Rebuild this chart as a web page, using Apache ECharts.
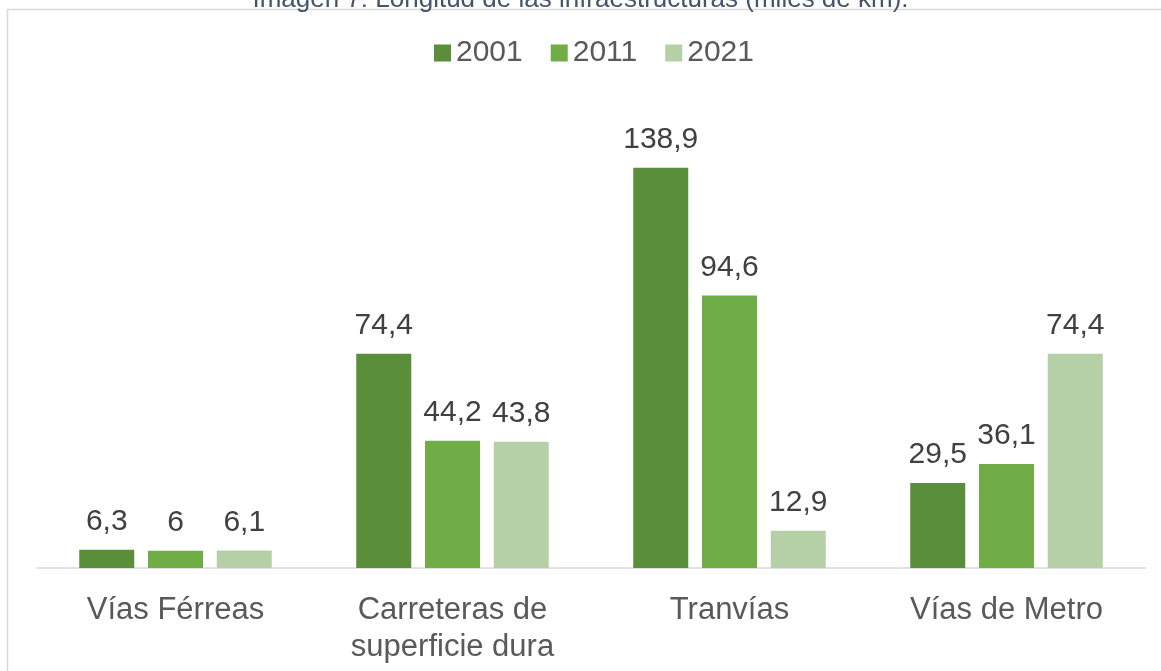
<!DOCTYPE html>
<html>
<head>
<meta charset="utf-8">
<title>Longitud de las infraestructuras</title>
<script src="https://cdn.jsdelivr.net/npm/echarts@6/dist/echarts.min.js"></script>
<style>
  html, body { margin: 0; padding: 0; background: #fff; }
  #chart { width: 1161px; height: 671px; }
</style>
</head>
<body>
<div id="chart"></div>
<script>
// datos (miles de km)
const categorias = ['Vías Férreas', 'Carreteras de\nsuperficie dura', 'Tranvías', 'Vías de Metro']
const anios = ['2001', '2011', '2021']
const valores2001 = [6.3, 74.4, 138.9, 29.5]
const valores2011 = [6, 44.2, 94.6, 36.1]
const valores2021 = [6.1, 43.8, 12.9, 74.4]
const colores = ['#5b8e3a', '#70ad47', '#b5d0a6']

const font = 'Liberation Sans, Arial, sans-serif'

function serie(nombre, datos, color) {
  return {
    name: nombre,
    type: 'bar',
    data: datos,
    barWidth: 55,
    barGap: '25%',
    itemStyle: { color: color },
    label: {
      show: true,
      position: 'top',
      distance: 13,
      fontFamily: font,
      fontSize: 30,
      color: '#404040',
      formatter: function (p) {
        return String(p.value).replace('.', ',')
      }
    },
    emphasis: { disabled: true }
  }
}

const chart = echarts.init(document.getElementById('chart'))
chart.setOption({
  animation: false,
  title: {
    text: 'Imagen 7: Longitud de las infraestructuras (miles de km).',
    left: 'center',
    top: -18,
    textStyle: {
      fontFamily: font,
      fontSize: 26,
      fontWeight: 'normal',
      color: '#44546a'
    }
  },
  graphic: [
    {
      type: 'rect',
      z: -1,
      shape: { x: 7.5, y: 9.5, width: 1200, height: 700 },
      style: { fill: 'none', stroke: '#d9d9d9', lineWidth: 1.5 }
    }
  ],
  legend: {
    data: anios,
    left: 429,
    top: 33,
    itemWidth: 17,
    itemHeight: 17,
    itemGap: 28,
    icon: 'rect',
    textStyle: {
      fontFamily: font,
      fontSize: 30,
      color: '#595959'
    }
  },
  grid: {
    left: 37,
    right: 16,
    top: 107,
    bottom: 103
  },
  xAxis: {
    type: 'category',
    data: categorias,
    axisTick: { show: false },
    axisLine: { lineStyle: { color: '#d9d9d9', width: 1.5 } },
    axisLabel: {
      fontFamily: font,
      fontSize: 31,
      lineHeight: 37,
      margin: 24,
      color: '#595959'
    }
  },
  yAxis: {
    type: 'value',
    min: 0,
    max: 160,
    show: false,
    splitLine: { show: false }
  },
  series: [
    serie(anios[0], valores2001, colores[0]),
    serie(anios[1], valores2011, colores[1]),
    serie(anios[2], valores2021, colores[2])
  ]
})
</script>
</body>
</html>
